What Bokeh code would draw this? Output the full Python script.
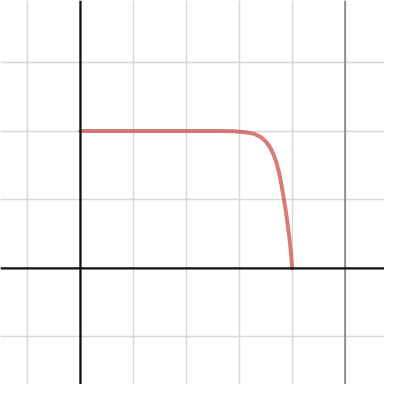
from bokeh.plotting import figure
from bokeh.models import Span, FixedTicker
from bokeh.embed import file_html
from bokeh.resources import INLINE

# curve
curve_x = [0, 1, 2, 2.6, 2.9, 3.0, 3.11, 3.2, 3.3, 3.42, 3.51, 3.585, 3.645, 3.70, 3.75,
           3.79, 3.83, 3.87, 3.91, 3.945, 3.975, 4.0]
curve_y = [2.0, 2.0, 2.0, 2.0, 1.996, 1.99, 1.982, 1.972, 1.955, 1.906, 1.841, 1.757, 1.664,
           1.548, 1.40, 1.25, 1.07, 0.88, 0.67, 0.46, 0.24, 0.0]

# grid lines
minor_x = [-1, 1, 2, 3, 4]
major_x = [5]
minor_y = [-1, 1, 2, 3]

p = figure(width=384, height=384, x_range=(-1.511, 5.744), y_range=(-1.692, 3.902),
           toolbar_location=None, output_backend="svg", min_border=0)
p.axis.visible = False
p.outline_line_color = None
p.xgrid.ticker = FixedTicker(ticks=minor_x)
p.ygrid.ticker = FixedTicker(ticks=minor_y)
p.grid.grid_line_color = "#d8d8d8"
p.grid.grid_line_width = 1.5
p.grid.grid_line_alpha = 1.0

for xv in major_x:
    p.add_layout(Span(location=xv, dimension="height", line_color="#8e8e8e", line_width=2))

p.add_layout(Span(location=0, dimension="height", line_color="#111111", line_width=2.3))
p.add_layout(Span(location=0, dimension="width", line_color="#111111", line_width=2.3))

p.line(curve_x, curve_y, line_color="#c74440", line_alpha=0.7, line_width=4,
       line_cap="round", line_join="round")

open("out.html", "w").write(file_html(p, INLINE))
